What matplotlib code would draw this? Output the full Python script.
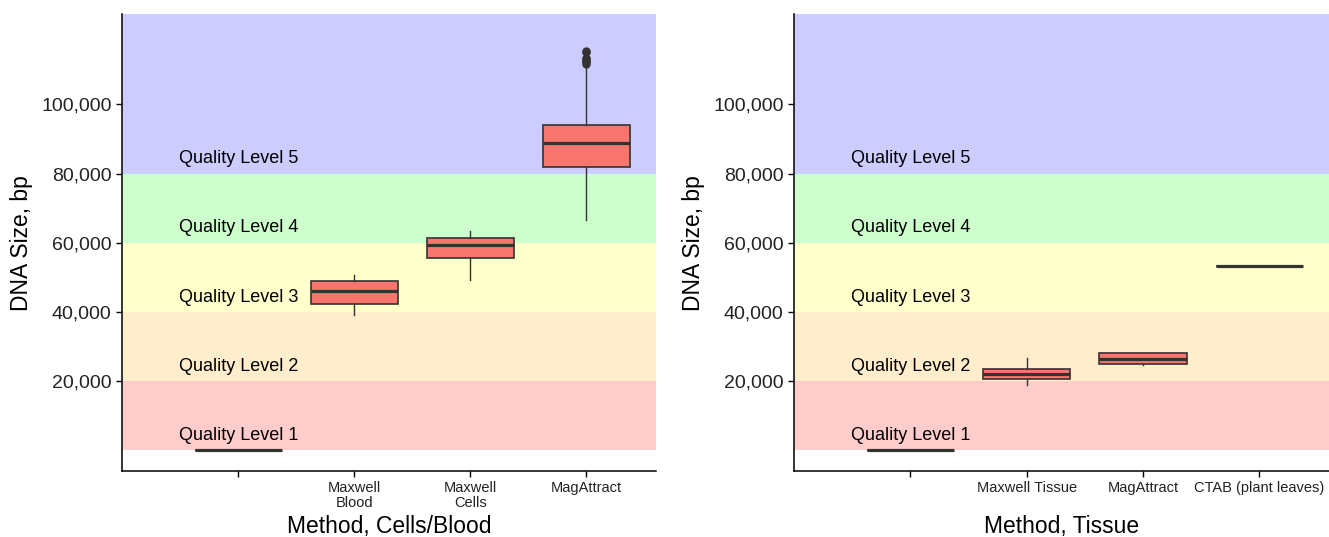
import matplotlib
matplotlib.use("Agg")
import matplotlib.pyplot as plt
from matplotlib.ticker import FuncFormatter

plt.rcParams['font.family'] = ['Liberation Sans', 'DejaVu Sans']

# quality bands (bp) and their fill colours
band_edges = [0, 20000, 40000, 60000, 80000, 130000]
band_colors = ['#FF0000', '#FFA500', '#FFFF00', '#00FF00', '#0000FF']
band_labels = ['Quality Level 1', 'Quality Level 2', 'Quality Level 3',
               'Quality Level 4', 'Quality Level 5']

# left panel: cells / blood
cells_labels = ['', 'Maxwell\nBlood', 'Maxwell\nCells', 'MagAttract']
cells_low = [0, 39200, 49200, 66600]
cells_q1 = [0, 42300, 55500, 82000]
cells_med = [0, 46000, 59200, 88800]
cells_q3 = [0, 48900, 61500, 93900]
cells_high = [0, 50600, 63500, 111400]
cells_fliers = [[], [], [], [111800, 112200, 112600, 113000, 113400, 115000, 115400]]

# right panel: tissue
tissue_labels = ['', 'Maxwell Tissue', 'MagAttract', 'CTAB (plant leaves)']
tissue_low = [0, 19000, 24600, 53200]
tissue_q1 = [0, 20500, 24900, 53200]
tissue_med = [0, 21900, 26500, 53200]
tissue_q3 = [0, 23400, 28100, 53200]
tissue_high = [0, 26800, 28200, 53200]
tissue_fliers = [[], [], [], []]


def draw_panel(ax, labels, low, q1, med, q3, high, fliers, xtitle):
    for i, c in enumerate(band_colors):
        ax.axhspan(band_edges[i], band_edges[i + 1], color=c, alpha=0.2, lw=0, zorder=0)
        ax.text(0.49, band_edges[i] + 3000, band_labels[i], fontsize=13,
                ha='left', va='baseline', color='black', zorder=1)
    stats = []
    for k in range(len(labels)):
        stats.append(dict(whislo=low[k], q1=q1[k], med=med[k], q3=q3[k],
                          whishi=high[k], fliers=fliers[k]))
    ax.bxp(stats, positions=range(1, len(labels) + 1), widths=0.75,
           patch_artist=True, showcaps=False, zorder=2,
           boxprops=dict(facecolor='#F8766D', edgecolor='#333333', linewidth=1.2),
           medianprops=dict(color='#333333', linewidth=2.3),
           whiskerprops=dict(color='#333333', linewidth=1.0),
           flierprops=dict(marker='o', markersize=5, markerfacecolor='#333333',
                           markeredgecolor='#333333'))
    ax.set_xlim(0.0, 4.6)
    ax.set_ylim(-6000, 126000)
    ax.set_yticks([20000, 40000, 60000, 80000, 100000])
    ax.yaxis.set_major_formatter(FuncFormatter(lambda v, p: f'{int(v):,}'))
    ax.set_xticks(range(1, len(labels) + 1))
    ax.set_xticklabels(labels, fontsize=10.5, color='#222222', linespacing=1.05)
    ax.tick_params(axis='y', labelsize=14, labelcolor='#222222', length=4, width=1)
    ax.tick_params(axis='x', length=4, width=1)
    ax.set_xlabel(xtitle, fontsize=16.5)
    ax.xaxis.set_label_coords(0.5, -0.097)
    ax.set_ylabel('DNA Size, bp', fontsize=16.5, labelpad=6)
    for s in ['top', 'right']:
        ax.spines[s].set_visible(False)
    for s in ['left', 'bottom']:
        ax.spines[s].set_linewidth(1.1)


fig = plt.figure(figsize=(13.29, 5.37), dpi=100)
ax1 = fig.add_axes([0.0918, 0.1229, 0.4018, 0.8503])
ax2 = fig.add_axes([0.5974, 0.1229, 0.4026, 0.8503])
draw_panel(ax1, cells_labels, cells_low, cells_q1, cells_med, cells_q3,
           cells_high, cells_fliers, 'Method, Cells/Blood')
draw_panel(ax2, tissue_labels, tissue_low, tissue_q1, tissue_med, tissue_q3,
           tissue_high, tissue_fliers, 'Method, Tissue')
fig.savefig('out.png', dpi=100)
